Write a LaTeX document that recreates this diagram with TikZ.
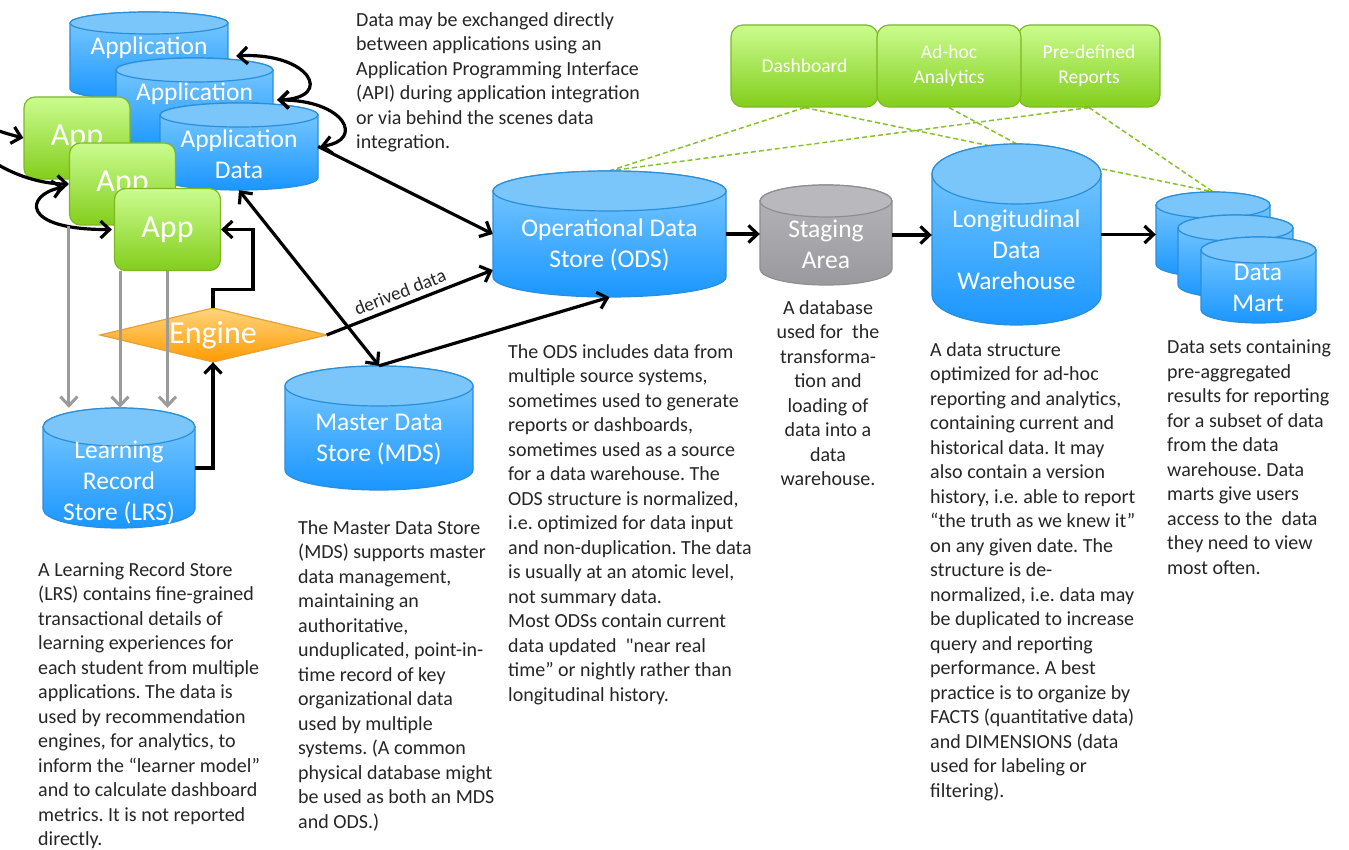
\documentclass[tikz,border=0pt]{standalone}
\usepackage{fontspec}
\setmainfont{Carlito}
\usetikzlibrary{arrows.meta,backgrounds}
\definecolor{bluetop}{HTML}{80CCFF}
\definecolor{bluebot}{HTML}{1A96FF}
\definecolor{bluelid}{HTML}{7AC6FB}
\definecolor{blueedge}{HTML}{2B8ED8}
\definecolor{graytop}{HTML}{B6B6BA}
\definecolor{graybot}{HTML}{9A9A9E}
\definecolor{graylid}{HTML}{B9B9BD}
\definecolor{grayedge}{HTML}{8E8E92}
\definecolor{greentop}{HTML}{CAFC8F}
\definecolor{greenbot}{HTML}{83CE1C}
\definecolor{greenedge}{HTML}{7DB823}
\definecolor{orangetop}{HTML}{FFD47E}
\definecolor{orangebot}{HTML}{FF9B00}
\definecolor{orangeedge}{HTML}{E5A13A}
\definecolor{dashgreen}{HTML}{86C12E}
\definecolor{txt}{HTML}{262626}
\definecolor{grayarrow}{HTML}{9B9B9B}
\newcommand{\dbcyl}[8]{%
 \pgfmathsetmacro{\CyXc}{(#2+#3)/2}%
 \pgfmathsetmacro{\CyRx}{(#3-#2)/2}%
 \pgfmathsetmacro{\CyYt}{#4+#5}%
 \pgfmathsetmacro{\CyYb}{#6-#5}%
 \pgfmathsetmacro{\CyW}{#3-#2}%
 \pgfmathsetmacro{\CyH}{#6-#4}%
 \pgfmathsetmacro{\CyYc}{(#4+#6)/2}%
 \path[#7] (#2,\CyYb) -- (#2,\CyYt) arc[start angle=180,end angle=0,x radius=\CyRx pt,y radius=#5pt] -- (#3,\CyYb) arc[start angle=0,end angle=-180,x radius=\CyRx pt,y radius=#5pt] -- cycle;
 \path[#8] (\CyXc,\CyYt) ellipse[x radius=\CyRx pt,y radius=#5pt];
 \node[inner sep=0pt,minimum width=\CyW pt,minimum height=\CyH pt] (#1) at (\CyXc,\CyYc) {};
}
\frenchspacing
\begin{document}
\begin{tikzpicture}[x=1pt,y=-1pt,
 bbody/.style={top color=bluetop,bottom color=bluebot,draw=blueedge,line width=1.2pt},
 blid/.style={fill=bluelid,draw=blueedge,line width=1.2pt},
 gbody/.style={top color=graytop,bottom color=graybot,draw=grayedge,line width=1.2pt},
 glid/.style={fill=graylid,draw=grayedge,line width=1.2pt},
 cyltext/.style={text=white,align=center,font=\fontsize{25.5}{31}\selectfont,inner sep=0pt},
 appbox/.style={rectangle,rounded corners=11pt,top color=greentop,bottom color=greenbot,draw=greenedge,line width=1.2pt,text=white,font=\fontsize{32}{38}\selectfont,minimum width=106pt,minimum height=82pt,inner sep=0pt},
 repbox/.style={rectangle,rounded corners=12pt,top color=greentop,bottom color=greenbot,draw=greenedge,line width=1.2pt,text=white,align=center,font=\fontsize{19.5}{25}\selectfont,minimum height=82pt,inner sep=0pt},
 desc/.style={anchor=north west,align=left,text=txt,font=\fontsize{20}{24.5}\selectfont,inner sep=0pt},
 arr/.style={draw=black,line width=3.2pt,-{Straight Barb[length=9pt,width=17pt]}},
 darr/.style={draw=black,line width=3.2pt,{Straight Barb[length=9pt,width=17pt]}-{Straight Barb[length=9pt,width=17pt]}},
 garr/.style={draw=grayarrow,line width=3pt,-{Straight Barb[length=9pt,width=17pt]}},
 greendash/.style={draw=dashgreen,line width=1.5pt,dash pattern=on 5pt off 3pt},
]
\begin{scope}[on background layer]
\fill[white] (0,0) rectangle (1349,850);
\end{scope}
\useasboundingbox (0,0) rectangle (1349,850);
\clip (0,0) rectangle (1349,850);

% application data stores and apps
\dbcyl{cylA}{70}{228}{12}{11}{100}{bbody}{blid}
\node[cyltext] (cylAt) at (149,48) {Application};
\dbcyl{cylB}{116}{273}{58}{12}{150}{bbody}{blid}
\node[cyltext] (cylBt) at (194.5,94) {Application};
\node[appbox] (app1) at (77,138) {App};
\dbcyl{cylC}{160}{318}{103}{12}{190}{bbody}{blid}
\node[cyltext] (cylCt) at (239,154.5) {Application\\Data};
\node[appbox] (app2) at (122.5,184) {App};
\node[appbox] (app3) at (167.5,229.5) {App};

% LRS, MDS, engine
\dbcyl{lrs}{43}{195}{408}{19}{528}{bbody}{blid}
\node[cyltext] (lrst) at (119,482.5) {Learning\\Record\\Store (LRS)};
\dbcyl{mds}{285}{473}{366}{20}{490}{bbody}{blid}
\node[cyltext] (mdst) at (379,439.5) {Master Data\\Store (MDS)};
\path[top color=orangetop,bottom color=orangebot,draw=orangeedge,line width=1.2pt] (100,335) -- (213,308) -- (327,335) -- (213,362) -- cycle;
\node[inner sep=0pt,minimum width=227pt,minimum height=54pt,text=white,font=\fontsize{32}{38}\selectfont] (eng) at (213,335) {Engine};

% warehouse chain
\dbcyl{ods}{493}{726}{171}{20}{297}{bbody}{blid}
\node[cyltext] (odst) at (609.5,244.5) {Operational Data\\Store (ODS)};
\dbcyl{stg}{760}{892}{185}{16}{285}{gbody}{glid}
\node[cyltext] (stgt) at (826,244) {Staging\\Area};
\dbcyl{ldw}{932}{1101}{144}{30}{325}{bbody}{blid}
\node[cyltext] (ldwt) at (1016.5,250) {Longitudinal\\Data\\Warehouse};
\dbcyl{dm1}{1156}{1270}{192}{13}{277}{bbody}{blid}
\dbcyl{dm2}{1178}{1293}{215}{13}{298}{bbody}{blid}
\dbcyl{dm3}{1201}{1316}{237}{13}{323}{bbody}{blid}
\node[cyltext] (dmt) at (1258,288) {Data\\Mart};

% reporting boxes
\node[repbox,minimum width=147pt] (dash) at (804.5,66) {Dashboard};
\node[repbox,minimum width=142pt] (pre) at (1089,66) {Pre-defined\\Reports};
\node[repbox,minimum width=144pt] (adhoc) at (949,66) {Ad-hoc\\Analytics};

% dashed report links (behind shapes)
\begin{scope}[on background layer]
\draw[greendash] (dash.south) -- (ods.north);
\draw[greendash] (dash.south) -- (dm1.north);
\draw[greendash] (adhoc.south) -- (ldw.north);
\draw[greendash] (pre.south) -- (ods.north);
\draw[greendash] (pre.south) -- (dm1.north);
\end{scope}

% connectors
\coordinate (lft1) at (-10,128);
\coordinate (lft2) at (-5,163);
\draw[darr] ([xshift=8pt]cylA.east) .. controls (310,52) and (335,98) .. ([xshift=4pt,yshift=4pt]cylB.east);
\draw[darr] ([xshift=4pt,yshift=4pt]cylB.east) .. controls (345,100) and (365,140) .. ([xshift=2pt]cylC.east);
\draw[arr] (lft1) .. controls (8,134) .. (app1.west);
\draw[arr] (lft2) .. controls (20,178) and (45,184) .. (app2.west);
\draw[darr] ([xshift=-5pt,yshift=-3pt]app2.west) .. controls (25,195) and (20,230) .. ([xshift=-2pt]app3.west);
\draw[arr] (cylC.east) -- (ods.west);
\draw[darr] (cylC.south) -- (mds.north);
\draw[arr] (mds.north) -- (ods.south);
\draw[arr] (eng.east) -- node[sloped,above,pos=0.47,inner sep=5pt,text=txt,font=\fontsize{19}{23}\selectfont] (dlbl) {derived data} ([yshift=-36pt]ods.west);
\draw[arr] (eng.north) -- ++(0,-18) -- ++(40,0) |- (app3.east);
\draw[arr] (lrs.east) -| (eng.south);
\draw[garr] (app2.south west) -- (app2.south west |- lrs.north);
\draw[garr] ([xshift=-47.5pt]app3.south) -- ([xshift=-47.5pt]app3.south |- lrs.north);
\draw[garr] (app3.south) -- (app3.south |- lrs.north);
\draw[arr] (ods.east) -- (ods.east -| stg.west);
\draw[arr] (stg.east) -- (stg.east -| ldw.west);
\draw[arr] (ldw.east) -- (ldw.east -| dm1.west);

% descriptions
\node[desc] (apitxt) at (356,12) {Data may be exchanged directly\\between applications using an\\Application Programming Interface\\(API) during application integration\\or via behind the scenes data\\integration.};
\node[desc] (odstxt) at (508,344) {The ODS includes data from\\multiple source systems,\\sometimes used to generate\\reports or dashboards,\\sometimes used as a source\\for a data warehouse. The\\ODS structure is normalized,\\i.e. optimized for data input\\and non-duplication. The data\\is usually at an atomic level,\\not summary data.\\Most ODSs contain current\\data updated\ \ \textquotedbl near real\\time” or nightly rather than\\longitudinal history.};
\node[desc,anchor=north,align=center] (stgtxt) at (828,300) {A database\\used for\ \ the\\transforma-\\tion and\\loading of\\data into a\\data\\warehouse.};
\node[desc] (ldwtxt) at (930,342) {A data structure\\optimized for ad-hoc\\reporting and analytics,\\containing current and\\historical data. It may\\also contain a version\\history, i.e. able to report\\“the truth as we knew it”\\on any given date. The\\structure is de-\\normalized, i.e. data may\\be duplicated to increase\\query and reporting\\performance. A best\\practice is to organize by\\FACTS (quantitative data)\\and DIMENSIONS (data\\used for labeling or\\filtering).};
\node[desc] (dmtxt) at (1167,340) {Data sets containing\\pre-aggregated\\results for reporting\\for a subset of data\\from the data\\warehouse. Data\\marts give users\\access to the\ \ data\\they need to view\\most often.};
\node[desc] (mdstxt) at (298,520) {The Master Data Store\\(MDS) supports master\\data management,\\maintaining an\\authoritative,\\unduplicated, point-in-\\time record of key\\organizational data\\used by multiple\\systems. (A common\\physical database might\\be used as both an MDS\\and ODS.)};
\node[desc] (lrstxt) at (38,562) {A Learning Record Store\\(LRS) contains fine-grained\\transactional details of\\learning experiences for\\each student from multiple\\applications. The data is\\used by recommendation\\engines, for analytics, to\\inform the “learner model”\\and to calculate dashboard\\metrics. It is not reported\\directly.};
\end{tikzpicture}
\end{document}
